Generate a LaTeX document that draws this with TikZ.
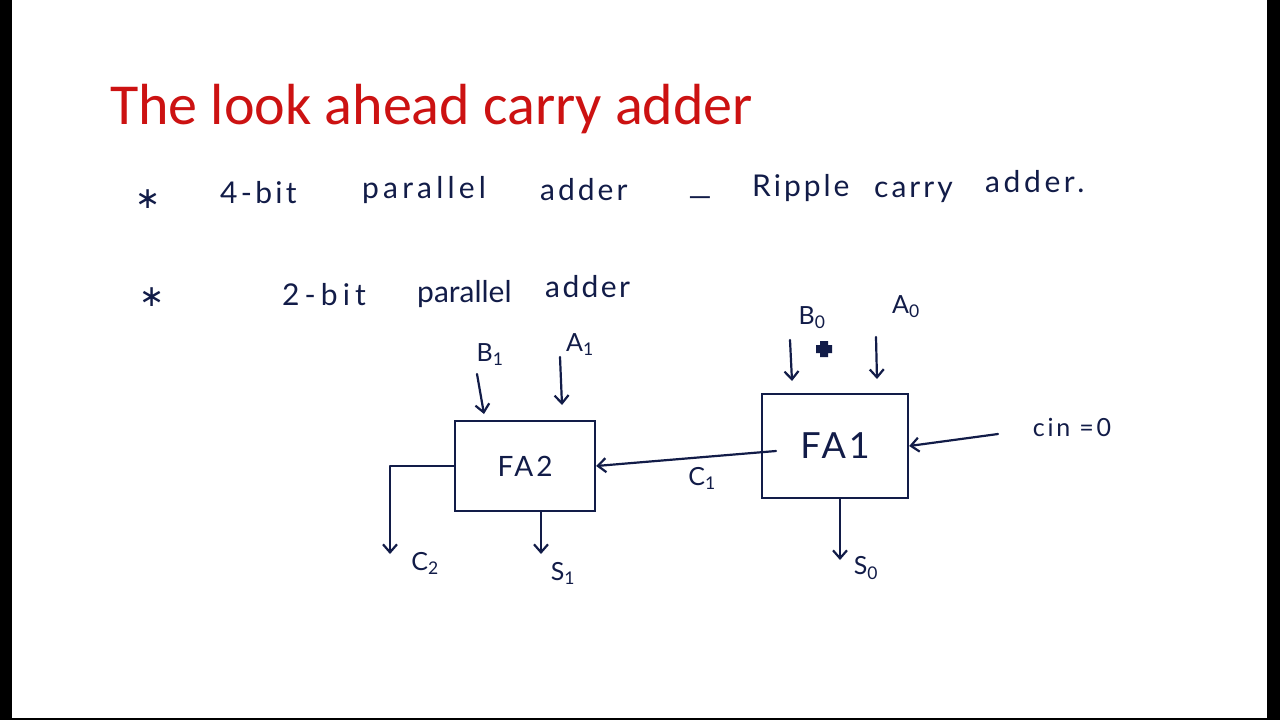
\documentclass[tikz,border=0pt]{standalone}
\usepackage{fontspec}
\setmainfont{Carlito}
\newfontfamily\hand{Lato}
\newfontfamily\symfont{DejaVu Sans}
\usetikzlibrary{arrows.meta}
\definecolor{ink}{RGB}{18,28,72}
\definecolor{titlered}{RGB}{204,18,18}
\newcommand\lspc[2]{{\addfontfeature{LetterSpace=#1}#2}}
\begin{document}
\begin{tikzpicture}[x=1pt,y=-1pt,
  hw/.style={font=\hand\fontsize{30}{34}\selectfont, text=ink, inner sep=0pt, anchor=base west},
  lbl/.style={font=\hand\fontsize{25}{28}\selectfont, text=ink, inner sep=0pt},
  wire/.style={draw=ink, line width=2.2pt, line cap=round, line join=round},
  arr/.style={wire, -{Straight Barb[length=8pt,width=14pt,line width=2.2pt]}},
  fabox/.style={draw=ink, line width=2.4pt, inner sep=0pt, text=ink}]
\useasboundingbox (0,0) rectangle (1280,720);
\fill[black] (0,0) rectangle (1280,720);
\fill[white] (12,0) rectangle (1267,718);

% title
\node[font=\fontsize{58}{68}\selectfont, text=titlered, inner sep=0pt, anchor=base west] (title) at (110,124) {The look ahead carry adder};

% bullets
\node[font=\symfont\fontsize{30}{30}\selectfont, text=ink, inner sep=0pt] (st1) at (148,199) {∗};
\node[font=\symfont\fontsize{30}{30}\selectfont, text=ink, inner sep=0pt] (st2) at (152,297) {∗};

% line 1
\node[hw] (w1) at (220,203) {\lspc{11}{4-bit}};
\node[hw] (w2) at (362,198) {\lspc{14}{parallel}};
\node[hw] (w3) at (540,200) {\lspc{10}{adder}};
\node[hw] (w4) at (688,206) {—};
\node[hw] (w5) at (752,196) {\lspc{10}{Ripple}};
\node[hw] (w6) at (874,197) {\lspc{10}{carry}};
\node[hw] (w7) at (985,192) {\lspc{12}{adder.}};

% line 2
\node[hw] (v1) at (282,305) {\lspc{17}{2-bit}};
\node[hw] (v2) at (417,302) {parallel};
\node[hw] (v3) at (545,297) {\lspc{8}{adder}};

% boxes
\node[fabox, minimum width=140pt, minimum height=90pt,
      font=\hand\fontsize{28}{30}\selectfont] (fa2) at (525,466) {\lspc{10}{FA2}};
\node[fabox, minimum width=146pt, minimum height=104pt,
      font=\hand\fontsize{36}{40}\selectfont] (fa1) at (835,446) {\lspc{8}{FA1}};

% input labels
\node[lbl] (lb1) at (490,355) {B\textsubscript{1}};
\node[lbl] (la1) at (580,345) {A\textsubscript{1}};
\node[lbl] (lb0) at (812,318) {B\textsubscript{0}};
\node[lbl] (la0) at (906,307) {A\textsubscript{0}};
\node[lbl] (lcin) at (1072,427) {\lspc{11}{cin =0}};
\node[lbl] (lc1) at (702,478) {C\textsubscript{1}};
\node[lbl] (lc2) at (425,563) {C\textsubscript{2}};
\node[lbl] (ls1) at (563,573) {S\textsubscript{1}};
\node[lbl] (ls0) at (866,568) {S\textsubscript{0}};

% plus mark
\fill[ink] (820,341) -- (828,341) -- (828,345) -- (832,345) -- (832,353) -- (828,353)
  -- (828,357) -- (820,357) -- (820,353) -- (816,353) -- (816,345) -- (820,345) -- cycle;

% coordinates
\coordinate (b1s) at (477,374);
\coordinate (b1e) at (484,414);
\coordinate (a1s) at (560,357);
\coordinate (a1e) at (562,405);
\coordinate (b0s) at (790,340);
\coordinate (b0e) at (792,381);
\coordinate (a0s) at (876,337);
\coordinate (a0e) at (877,379);
\coordinate (cins) at (998,434);
\coordinate (c1s) at (776,451);
\coordinate (c2e) at (390,554);
\coordinate (s1e) at (541,554);
\coordinate (s0e) at (840,560);

% connectors
\draw[arr] (b1s) -- (b1e);
\draw[arr] (a1s) -- (a1e);
\draw[arr] (b0s) -- (b0e);
\draw[arr] (a0s) -- (a0e);
\draw[arr] (cins) -- (fa1.east);
\draw[arr] (c1s) -- (fa2.east);
\draw[arr] (fa2.west) -| (c2e);
\draw[arr] (s1e |- fa2.south) -- (s1e);
\draw[arr] (s0e |- fa1.south) -- (s0e);
\end{tikzpicture}
\end{document}
